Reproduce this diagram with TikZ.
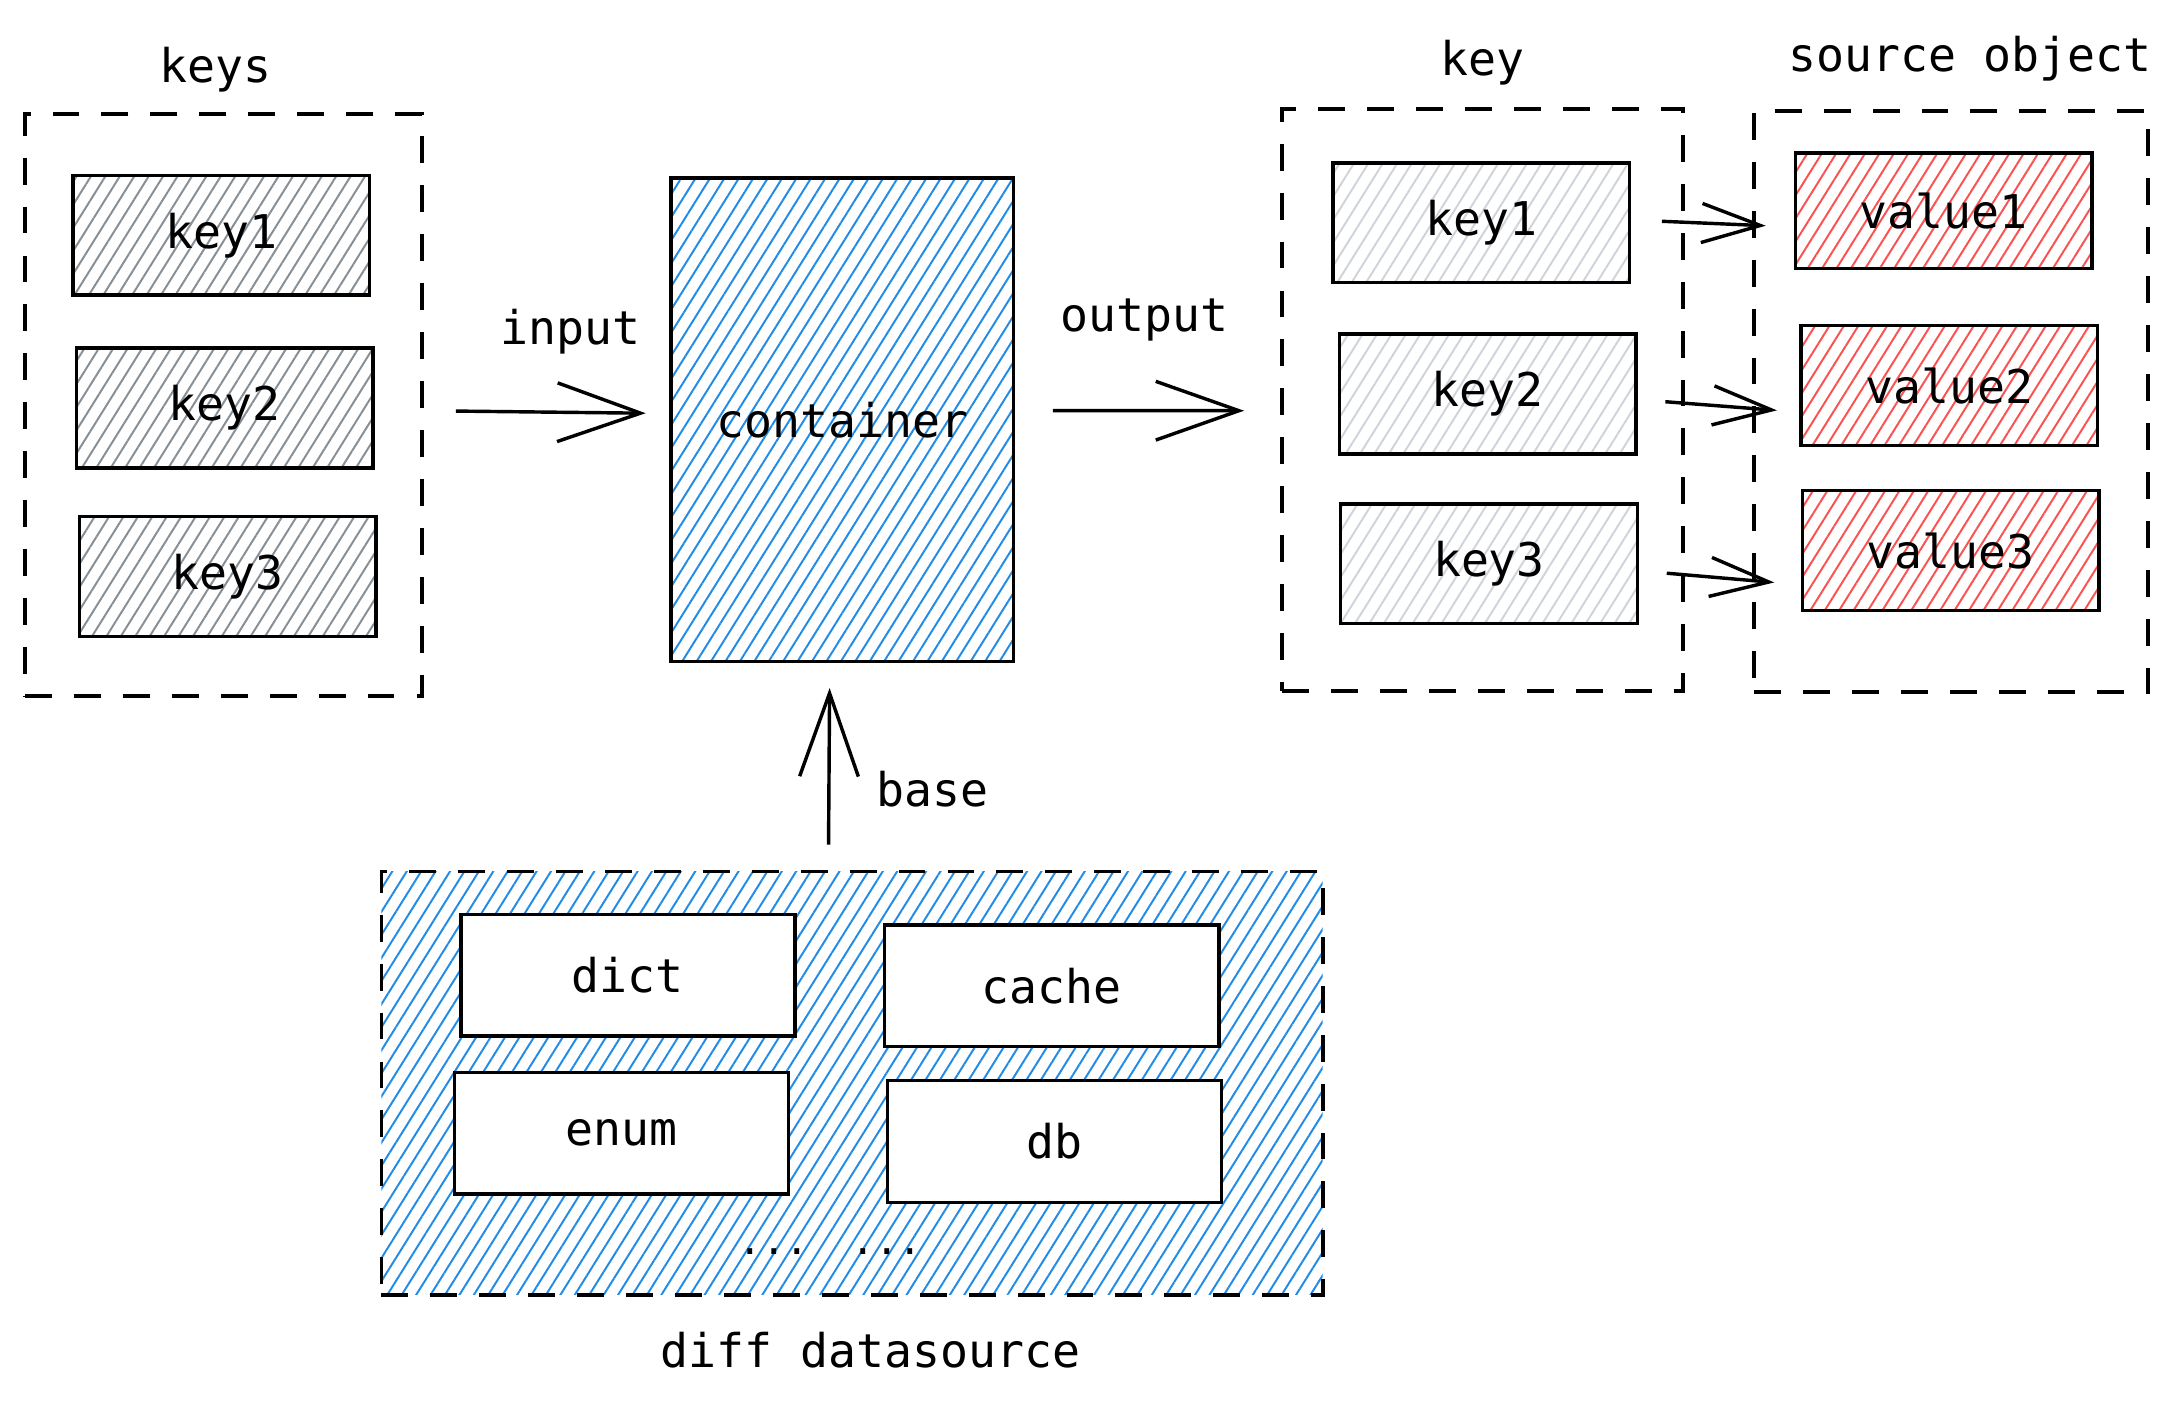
\documentclass[tikz,border=0pt]{standalone}
\usepackage{fontspec}
\setmainfont{DejaVu Sans Mono}
\usetikzlibrary{arrows.meta,patterns.meta}
\definecolor{hatchblue}{HTML}{228BE6}
\definecolor{hatchred}{HTML}{FA5252}
\definecolor{hatchgray}{HTML}{868E96}
\definecolor{hatchlight}{HTML}{CED4DA}
\tikzset{
	every node/.style={font=\fontsize{19}{23}\selectfont},
	hatch/.style={pattern={Lines[angle=58,distance=5pt,line width=0.8pt]}, pattern color=#1},
	group/.style={draw, line width=1.6pt, dash pattern=on 11pt off 9pt},
	box/.style={draw, line width=1.4pt, minimum width=4.26cm, minimum height=1.72cm},
	darkkey/.style={box, hatch=hatchgray},
	lightkey/.style={box, hatch=hatchlight},
	valuebox/.style={box, hatch=hatchred},
	sourcebox/.style={box, fill=white, minimum width=4.8cm, minimum height=1.75cm},
	bigarrow/.style={line width=1.4pt, -{Straight Barb[length=34pt,width=24pt]}},
	smallarrow/.style={line width=1.4pt, -{Straight Barb[length=24pt,width=16pt]}}
}

\begin{document}
\begin{tikzpicture}
	%%%%% START %%%%%
	\useasboundingbox (0,0) rectangle (31.36,-20.21);

	% keys going in
	\node[group, minimum width=5.7cm, minimum height=8.36cm] (keys) at (3.21,-5.82) {};
	\node (keystitle) at (3.1,-1.0) {keys};
	\node[darkkey] (inkey1) at (3.18,-3.38) {key1};
	\node[darkkey] (inkey2) at (3.23,-5.86) {key2};
	\node[darkkey] (inkey3) at (3.27,-8.28) {key3};

	% container
	\node[draw, line width=1.4pt, hatch=hatchblue, minimum width=4.92cm, minimum height=6.94cm] (container) at (12.1,-6.03) {container};

	% keys coming out
	\node[group, minimum width=5.76cm, minimum height=8.36cm] (outkeys) at (21.3,-5.74) {};
	\node (outkeystitle) at (21.3,-0.9) {key};
	\node[lightkey] (outkey1) at (21.28,-3.2) {key1};
	\node[lightkey] (outkey2) at (21.37,-5.66) {key2};
	\node[lightkey] (outkey3) at (21.39,-8.1) {key3};

	% source object
	\node[group, minimum width=5.66cm, minimum height=8.34cm] (source) at (28.03,-5.77) {};
	\node (sourcetitle) at (28.3,-0.84) {source object};
	\node[valuebox, minimum height=1.66cm] (value1) at (27.92,-3.03) {value1};
	\node[valuebox] (value2) at (28.0,-5.54) {value2};
	\node[valuebox] (value3) at (28.02,-7.91) {value3};

	% diff datasource
	\node[group, hatch=hatchblue, minimum width=13.52cm, minimum height=6.08cm] (diff) at (12.24,-15.56) {};
	\node[sourcebox] (dict) at (9.02,-14.01) {dict};
	\node[sourcebox] (cache) at (15.11,-14.16) {cache};
	\node[sourcebox] (enum) at (8.93,-16.28) {enum};
	\node[sourcebox] (db) at (15.15,-16.4) {db};
	\node[font=\fontsize{16}{19}\selectfont] (dotsA) at (11.12,-17.98) {...};
	\node[font=\fontsize{16}{19}\selectfont] (dotsB) at (12.74,-17.98) {...};
	\node (difftitle) at (12.5,-19.4) {diff datasource};

	% arrows
	\draw[bigarrow, shorten <=0.46cm, shorten >=0.34cm] ([yshift=-0.08cm]keys.east) -- ([yshift=0.09cm]container.west);
	\node (input) at (8.2,-4.76) {input};
	\draw[bigarrow, shorten <=0.54cm, shorten >=0.52cm] ([yshift=0.13cm]container.east) -- ([yshift=-0.16cm]outkeys.west);
	\node (output) at (16.44,-4.6) {output};
	\draw[bigarrow, shorten <=0.36cm, shorten >=0.36cm] (11.9,0 |- diff.north) -- (11.92,0 |- container.south);
	\node (base) at (13.4,-11.34) {base};

	\draw[smallarrow, shorten <=0.44cm, shorten >=0.4cm] ([yshift=0.04cm]outkey1.east) -- ([yshift=-0.23cm]value1.west);
	\draw[smallarrow, shorten <=0.4cm, shorten >=0.32cm] ([yshift=-0.08cm]outkey2.east) -- ([yshift=-0.38cm]value2.west);
	\draw[smallarrow, shorten <=0.4cm, shorten >=0.38cm] ([yshift=-0.1cm]outkey3.east) -- ([yshift=-0.49cm]value3.west);

	%%%%% END %%%%%
\end{tikzpicture}
\end{document}
